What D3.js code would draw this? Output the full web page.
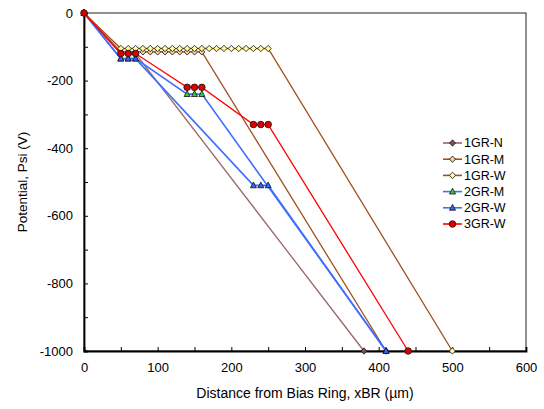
<!DOCTYPE html>
<html>
<head>
<meta charset="utf-8">
<script src="https://cdn.jsdelivr.net/npm/d3@7"></script>
<style>
  body { margin: 0; background: #fff; }
  svg { font-family: "Liberation Sans", Arial, sans-serif; }
</style>
</head>
<body>
<div id="chart"></div>
<script>
// series data: [distance um, potential V]
const gr1N = [[0, 0], [50, -120], [60, -120], [70, -120], [380, -1000]];
const gr1M = [[0, 0], [50, -115], [60, -115], [70, -115], [80, -115], [90, -115], [100, -115], [110, -115],
    [120, -115], [130, -115], [140, -115], [150, -115], [160, -115], [410, -1000]];
const gr1W = [[0, 0], [50, -105], [60, -105], [70, -105], [80, -105], [90, -105], [100, -105], [110, -105],
    [120, -105], [130, -105], [140, -105], [150, -105], [160, -105], [170, -105], [180, -105], [190, -105],
    [200, -105], [210, -105], [220, -105], [230, -105], [240, -105], [250, -105], [500, -1000]];
const gr2M = [[0, 0], [50, -135], [60, -135], [70, -135], [140, -240], [150, -240], [160, -240], [410, -1000]];
const gr2W = [[0, 0], [50, -135], [60, -135], [70, -135], [230, -510], [240, -510], [250, -510], [410, -1000]];
const gr3W = [[0, 0], [50, -120], [60, -120], [70, -120], [140, -220], [150, -220], [160, -220],
    [230, -330], [240, -330], [250, -330], [440, -1000]];

const xTicks = [0, 100, 200, 300, 400, 500, 600];
const yTicks = [0, -200, -400, -600, -800, -1000];

const series = [
    { name: '1GR-N', data: gr1N, line: '#996666', fill: '#804d5a', shape: 'diamond' },
    { name: '1GR-M', data: gr1M, line: '#a0501e', fill: '#ffcc99', shape: 'diamond' },
    { name: '1GR-W', data: gr1W, line: '#a0501e', fill: '#ffff99', shape: 'diamond' },
    { name: '2GR-M', data: gr2M, line: '#3f6fff', fill: '#33cc33', shape: 'triangle' },
    { name: '2GR-W', data: gr2W, line: '#3f6fff', fill: '#3366ff', shape: 'triangle' },
    { name: '3GR-W', data: gr3W, line: '#ff0000', fill: '#dd0000', shape: 'circle' }
];

const margin = { top: 13, right: 18, bottom: 58, left: 84 },
    width = 544, height = 409,
    iw = width - margin.left - margin.right,
    ih = height - margin.top - margin.bottom;

const svg = d3.select('#chart').append('svg')
    .attr('width', width)
    .attr('height', height);

const g = svg.append('g').attr('transform', `translate(${margin.left},${margin.top})`);

const x = d3.scaleLinear().domain([0, 600]).range([0, iw]);
const y = d3.scaleLinear().domain([-1000, 0]).range([ih, 0]);

// frame
g.append('rect')
    .attr('width', iw).attr('height', ih)
    .attr('fill', 'none').attr('stroke', '#222').attr('stroke-width', 1);

// minor/major ticks pointing inward
const xAxis = g.append('g').attr('transform', `translate(0,${ih})`)
    .call(d3.axisBottom(x).tickValues(d3.range(0, 601, 50)).tickSize(-4).tickPadding(12)
        .tickFormat(d => xTicks.includes(d) ? d : ''));
const yAxis = g.append('g')
    .call(d3.axisLeft(y).tickValues(d3.range(-1000, 1, 100)).tickSize(-4).tickPadding(11)
        .tickFormat(d => yTicks.includes(d) ? d : ''));

[xAxis, yAxis].forEach(a => {
    a.select('.domain').attr('stroke', '#000').attr('stroke-width', 1.8);
    a.selectAll('.tick line').attr('stroke', '#000');
    a.selectAll('.tick text').attr('font-size', 13).attr('fill', '#000')
        .attr('font-family', '"Liberation Sans", Arial, sans-serif');
});

const line = d3.line().x(d => x(d[0])).y(d => y(d[1]));

function marker(sel, shape) {
    if (shape === 'circle') {
        sel.append('circle').attr('r', 3.3);
    } else if (shape === 'diamond') {
        sel.append('path').attr('d', 'M0,-3.2L3,0L0,3.2L-3,0Z');
    } else {
        sel.append('path').attr('d', 'M0,-3.4L3,2.4L-3,2.4Z');
    }
}

series.forEach(s => {
    g.append('path')
        .datum(s.data)
        .attr('d', line)
        .attr('fill', 'none')
        .attr('stroke', s.line)
        .attr('stroke-width', s.name.startsWith('2GR') ? 1.6 : 1.3);
    g.selectAll(null)
        .data(s.data)
        .enter()
        .append('g')
        .attr('transform', d => `translate(${x(d[0])},${y(d[1])})`)
        .each(function () { marker(d3.select(this), s.shape); })
        .selectAll('circle,path')
        .attr('fill', s.fill)
        .attr('stroke', '#111')
        .attr('stroke-width', 0.8);
});

// legend
const legend = g.append('g').attr('transform', `translate(${443 - margin.left},${143 - margin.top})`);
series.forEach((s, i) => {
    const row = legend.append('g').attr('transform', `translate(0,${i * 16.2})`);
    row.append('line').attr('x1', 0).attr('x2', 19)
        .attr('stroke', s.line).attr('stroke-width', 1.6);
    const m = row.append('g').attr('transform', 'translate(9.5,0)');
    marker(m, s.shape);
    m.selectAll('circle,path').attr('fill', s.fill).attr('stroke', '#111').attr('stroke-width', 0.8);
    row.append('text').attr('x', 21).attr('dy', '0.35em')
        .attr('font-size', 12.5).text(s.name);
});

// axis titles
svg.append('text')
    .attr('x', margin.left + iw / 2).attr('y', 398)
    .attr('text-anchor', 'middle').attr('font-size', 14)
    .text('Distance from Bias Ring, xBR (µm)');

svg.append('text')
    .attr('transform', `translate(27,${182}) rotate(-90)`)
    .attr('text-anchor', 'middle').attr('font-size', 13.5)
    .text('Potential, Psi (V)');
</script>
</body>
</html>
